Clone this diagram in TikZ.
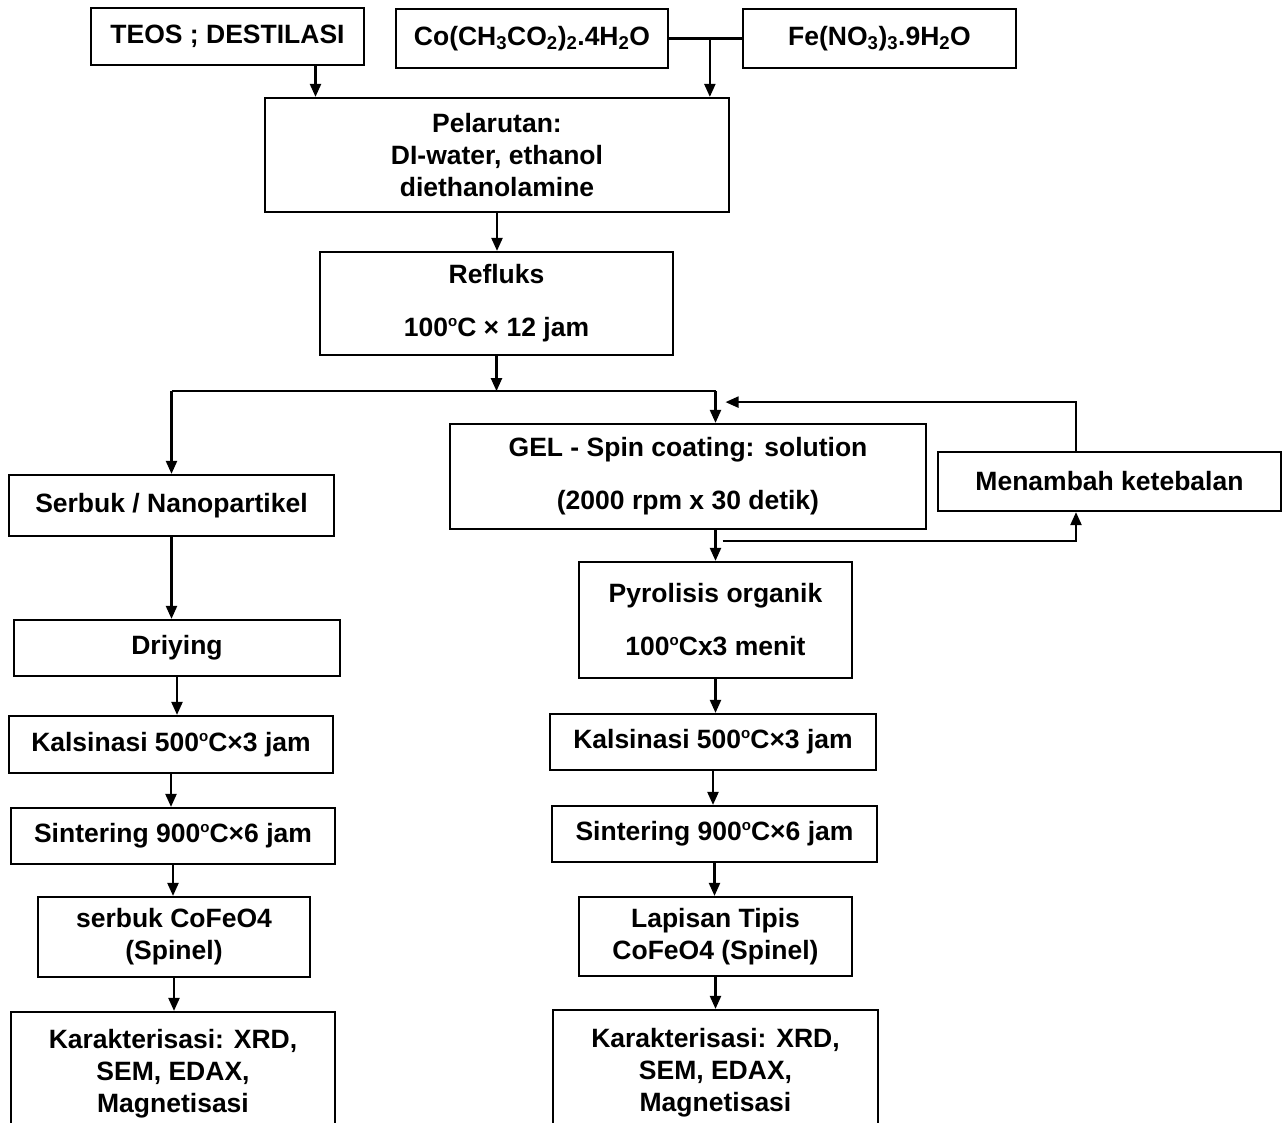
\documentclass[tikz,border=0pt]{standalone}
\usepackage{fontspec}
\setmainfont{Liberation Sans}
\usetikzlibrary{arrows.meta,calc}
\newcommand{\degO}{\raisebox{10pt}{\fontsize{15}{15}\selectfont o}}
\begin{document}
\begin{tikzpicture}[x=1pt, y=-1pt, >={Triangle[length=13pt,width=11pt]},
    font=\bfseries\fontsize{26.5}{32}\selectfont, line width=2.2pt,
    procBox/.style={draw, align=center, inner sep=0pt}]

  \useasboundingbox (0,0) rectangle (1285,1122);

  % starting materials
  \node[procBox, minimum width=273, minimum height=57] (teos) at (227.5,36.5) {TEOS ; DESTILASI};
  \node[procBox, minimum width=272, minimum height=59] (co) at (532,38.5)
    {Co(CH\textsubscript{3}CO\textsubscript{2})\textsubscript{2}.4H\textsubscript{2}O};
  \node[procBox, minimum width=273, minimum height=59] (fe) at (879.5,38.5)
    {Fe(NO\textsubscript{3})\textsubscript{3}.9H\textsubscript{2}O};

  \node[procBox, minimum width=464, minimum height=114] (pel) at (497,155)
    {Pelarutan:\\DI-water, ethanol\\diethanolamine};
  \node[procBox, minimum width=353, minimum height=103] (ref) at (496.5,303.5)
    {Refluks\\[21pt]100\degO C × 12 jam};

  % powder route
  \node[procBox, minimum width=325, minimum height=61] (serbuk) at (171.5,505.5) {Serbuk / Nanopartikel};
  \node[procBox, minimum width=326, minimum height=56] (dry) at (177,648) {Driying};
  \node[procBox, minimum width=324, minimum height=57] (kalL) at (171,744.5)
    {Kalsinasi 500\degO C×3 jam};
  \node[procBox, minimum width=324, minimum height=56] (sinL) at (173,836)
    {Sintering 900\degO C×6 jam};
  \node[procBox, minimum width=272, minimum height=80] (cofL) at (174,937)
    {serbuk CoFeO4\\(Spinel)};
  \node[procBox, minimum width=324, minimum height=123] (karL) at (173,1073.5)
    {Karakterisasi: XRD,\\SEM, EDAX,\\Magnetisasi};

  % thin film route
  \node[procBox, minimum width=476, minimum height=105] (gel) at (688,476.5)
    {GEL - Spin coating: solution\\[21pt](2000 rpm x 30 detik)};
  \node[procBox, minimum width=343, minimum height=59] (men) at (1109.5,481.5) {Menambah ketebalan};
  \node[procBox, minimum width=273, minimum height=116] (pyr) at (715.5,620)
    {Pyrolisis organik\\[21pt]100\degO Cx3 menit};
  \node[procBox, minimum width=326, minimum height=56] (kalR) at (713,742)
    {Kalsinasi 500\degO C×3 jam};
  \node[procBox, minimum width=325, minimum height=56] (sinR) at (714.5,834)
    {Sintering 900\degO C×6 jam};
  \node[procBox, minimum width=273, minimum height=79] (lap) at (715.5,936.5)
    {Lapisan Tipis\\CoFeO4 (Spinel)};
  \node[procBox, minimum width=325, minimum height=125] (karR) at (715.5,1072.5)
    {Karakterisasi: XRD,\\SEM, EDAX,\\Magnetisasi};

  % into the solution
  \coordinate (tDrop) at ([xshift=88]teos.south);
  \draw[->] (tDrop) -- (tDrop |- pel.north);
  \draw (co.east) -- (fe.west);
  \coordinate (cDrop) at ($(co.east)!0.56!(fe.west)$);
  \draw[->] (cDrop) -- (cDrop |- pel.north);
  \draw[->] (pel.south) -- (pel.south |- ref.north);

  % split into two routes
  \coordinate (split) at ([yshift=-35]ref.south);
  \coordinate (rCol) at (split -| pyr.north);
  \draw[->] (ref.south) -- (split);
  \draw (split -| serbuk.north) -- (rCol);
  \draw[->] (split -| serbuk.north) -- (serbuk.north);
  \draw[->] (rCol) -- (rCol |- gel.north);

  \foreach \a/\b in {serbuk/dry, dry/kalL, kalL/sinL, sinL/cofL, cofL/karL}
    \draw[->] (\a.south) -- (\a.south |- \b.north);

  \coordinate (gOut) at (gel.south -| pyr.north);
  \draw[->] (gOut) -- (pyr.north);
  \foreach \a/\b in {pyr/kalR, kalR/sinR, sinR/lap, lap/karR}
    \draw[->] (\a.south) -- (\a.south |- \b.north);

  % repeat coating loop
  \coordinate (mTop) at ([xshift=-33.5]men.north);
  \coordinate (mBot) at ([xshift=-33.5]men.south);
  \coordinate (loopIn) at ([xshift=10,yshift=-11]rCol);
  \coordinate (loopOut) at ([xshift=7,yshift=-11]gOut);
  \draw[->] (mTop) |- (loopIn);
  \draw[->] (loopOut) -| (mBot);

\end{tikzpicture}
\end{document}
